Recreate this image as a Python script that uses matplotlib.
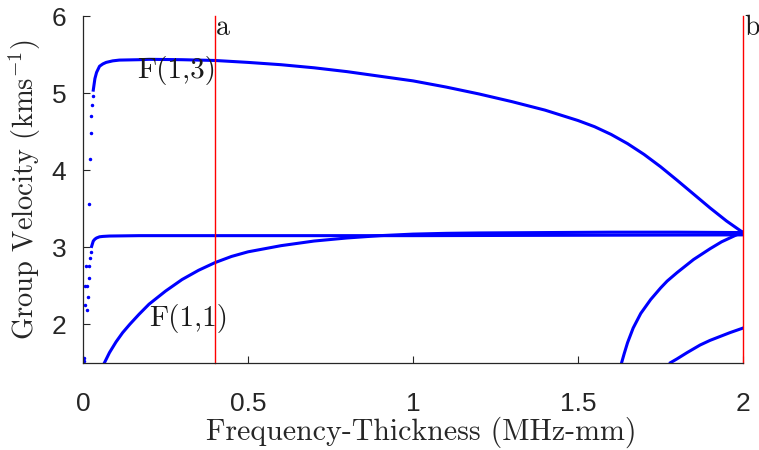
#Group velocity dispersion curves, frequency-thickness 0 to 2 MHz-mm
import numpy as np
from matplotlib import pyplot as plt

plt.rcParams['mathtext.fontset'] = 'cm'

#Mode F(1,3): sparse onset dots, then the smooth branch
f13_dot_x = [0.019, 0.021, 0.023, 0.025, 0.027, 0.029]
f13_dot_y = [3.56, 4.14, 4.48, 4.71, 4.85, 4.96]
f13_x = [0.031, 0.033, 0.036, 0.041, 0.05, 0.06, 0.07, 0.09, 0.11, 0.17, 0.2, 0.3, 0.4,
         0.5, 0.6, 0.7, 0.8, 0.9, 1.0, 1.1, 1.2, 1.3, 1.4, 1.5, 1.55, 1.6, 1.65, 1.7,
         1.75, 1.8, 1.85, 1.9, 1.95, 2.0]
f13_y = [5.04, 5.10, 5.19, 5.27, 5.35, 5.38, 5.40, 5.42, 5.43, 5.435, 5.44, 5.435, 5.425,
         5.40, 5.37, 5.33, 5.28, 5.22, 5.16, 5.08, 4.99, 4.89, 4.78, 4.645, 4.565, 4.465, 4.345,
         4.205, 4.045, 3.87, 3.69, 3.51, 3.34, 3.19]

#Flat mode near 3.15 with its onset dots
f12_dot_x = [0.004, 0.004, 0.005, 0.013, 0.005, 0.016, 0.013, 0.017, 0.008, 0.019, 0.021, 0.023]
f12_dot_y = [1.52, 1.56, 2.25, 2.18, 2.50, 2.35, 2.50, 2.60, 2.75, 2.76, 2.86, 2.94]
f12_x = [0.026, 0.031, 0.036, 0.041, 0.05, 0.06, 0.08, 0.17, 0.5, 1.0, 1.5, 2.0]
f12_y = [3.01, 3.08, 3.105, 3.12, 3.135, 3.14, 3.145, 3.15, 3.15, 3.15, 3.155, 3.16]

#Mode F(1,1)
f11_x = [0.065, 0.08, 0.1, 0.12, 0.142, 0.17, 0.2, 0.25, 0.3, 0.35, 0.4, 0.45, 0.5,
         0.6, 0.7, 0.8, 0.9, 1.0, 1.1, 1.2, 1.4, 1.6, 1.8, 2.0]
f11_y = [1.5, 1.63, 1.77, 1.89, 2.0, 2.13, 2.26, 2.43, 2.58, 2.70, 2.80, 2.88, 2.94,
         3.02, 3.08, 3.12, 3.15, 3.17, 3.18, 3.185, 3.19, 3.195, 3.195, 3.19]

#Higher modes starting near the right edge
m4_x = [1.632, 1.64, 1.65, 1.667, 1.69, 1.72, 1.75, 1.77, 1.8, 1.85, 1.9, 1.935, 1.97, 2.0]
m4_y = [1.5, 1.62, 1.76, 1.95, 2.14, 2.32, 2.47, 2.56, 2.67, 2.84, 2.98, 3.07, 3.14, 3.2]
m5_x = [1.78, 1.8, 1.83, 1.87, 1.9, 1.93, 1.96, 2.0]
m5_y = [1.5, 1.55, 1.63, 1.73, 1.79, 1.84, 1.89, 1.95]

#Marker lines
cut_x = [0.4, 2.0]
cut_labels = ['a', 'b']

fig = plt.figure(figsize=(7.59, 4.5), dpi=100)
ax = fig.add_axes([0.1094, 0.194, 0.8696, 0.770])

blue = '#0000ff'
for xs, ys in [(f13_x, f13_y), (f12_x, f12_y), (f11_x, f11_y), (m4_x, m4_y), (m5_x, m5_y)]:
    ax.plot(xs, ys, color=blue, linewidth=2.2, solid_joinstyle='round')
ax.plot(f13_dot_x, f13_dot_y, '.', color=blue, markersize=3)
ax.plot(f12_dot_x, f12_dot_y, '.', color=blue, markersize=3)

for xc, lab in zip(cut_x, cut_labels):
    ax.axvline(xc, color='#ff0000', linewidth=1.0, clip_on=False)
    ax.text(xc + 0.003, 5.68, lab, fontsize=20, family='cmr10', color='#1a1a1a', va='bottom')

ax.text(0.165, 5.3, 'F(1,3)', fontsize=21, family='cmr10', va='center', color='#1a1a1a')
ax.text(0.2, 2.08, 'F(1,1)', fontsize=21, family='cmr10', va='center', color='#1a1a1a')

ax.set_xlim(0, 2)
ax.set_ylim(1.5, 6)
ax.set_xticks([0, 0.5, 1, 1.5, 2])
ax.set_xticklabels(['0', '0.5', '1', '1.5', '2'])
ax.set_yticks([2, 3, 4, 5, 6])

for s in ['top', 'right']:
    ax.spines[s].set_visible(False)
for s in ['left', 'bottom']:
    ax.spines[s].set_color('#262626')
    ax.spines[s].set_linewidth(0.9)
ax.tick_params(direction='in', length=5, color='#262626', labelsize=19, labelcolor='#262626')
ax.tick_params(axis='x', pad=21)
ax.tick_params(axis='y', pad=12)
for lab in ax.get_xticklabels() + ax.get_yticklabels():
    lab.set_fontfamily('Liberation Sans')

ax.set_xlabel('Frequency-Thickness (MHz-mm)', fontsize=21.5, family='cmr10', color='#262626')
ax.set_ylabel(r'Group Velocity (kms$^{-1}$)', fontsize=20.5, family='cmr10', color='#262626', labelpad=6)
ax.xaxis.set_label_coords(0.513, -0.155)
ax.xaxis.label.set_va('top')

fig.savefig('out.png', dpi=100)
